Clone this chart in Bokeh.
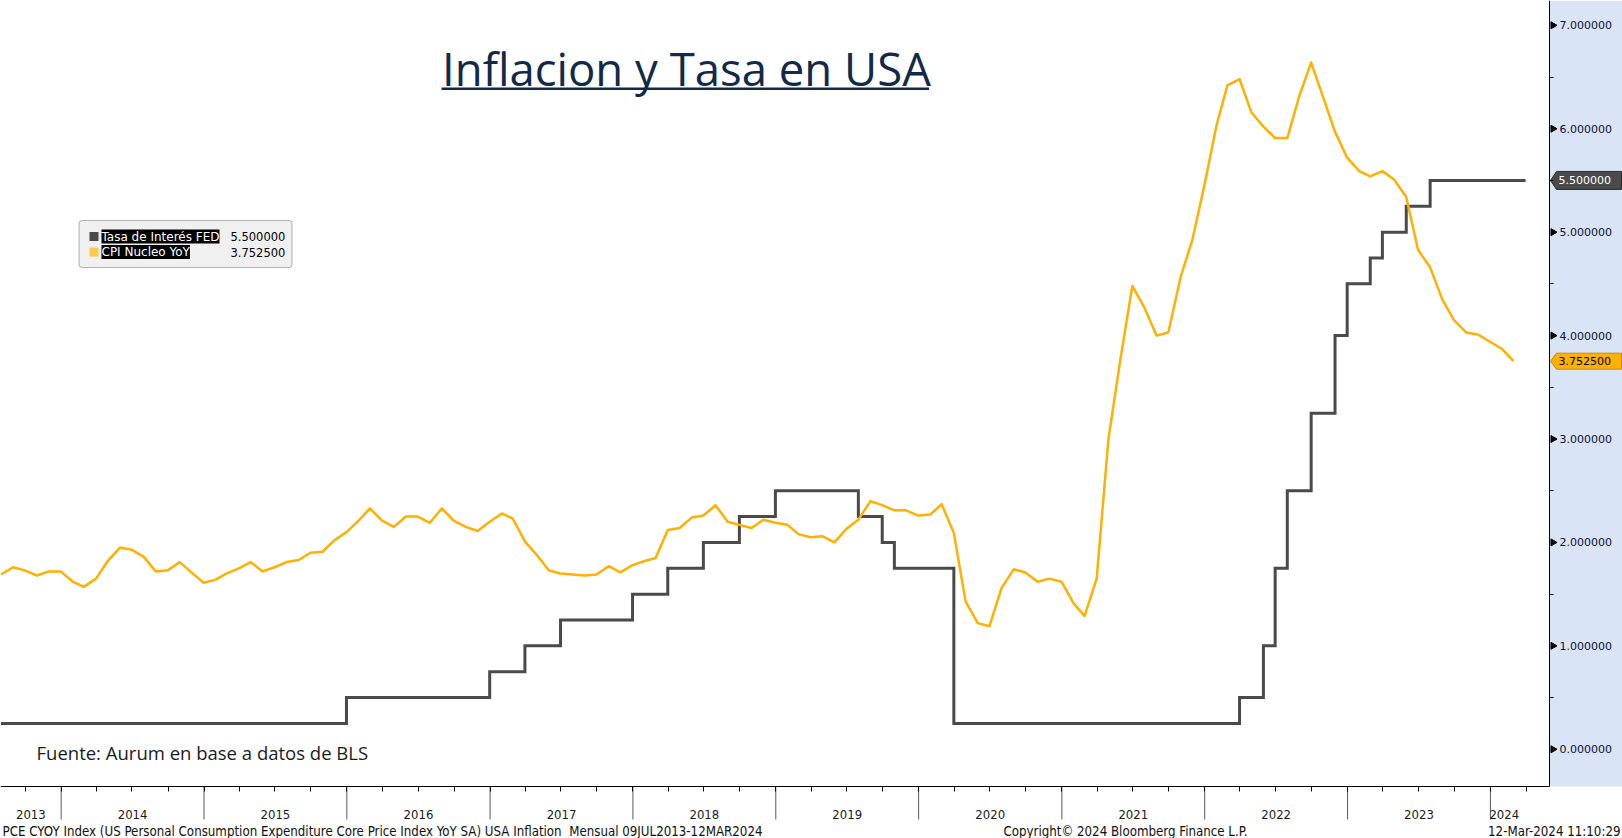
import math
import pandas as pd
from bokeh.plotting import figure
from bokeh.core.properties import value
from bokeh.models import (Range1d, FixedTicker, PrintfTickFormatter, Label, BoxAnnotation,
                          LinearAxis, DatetimeAxis, DatetimeTickFormatter)
from bokeh.embed import file_html
from bokeh.resources import INLINE

# ---------------------------------------------------------------- data
# Core CPI, year-on-year %, month-end observations starting Jul 2013
cpi_first_month_end = "2013-07-31"
cpi_core_yoy = [
    1.69, 1.76, 1.73, 1.68, 1.72, 1.72,
    1.62, 1.57, 1.65, 1.82, 1.95, 1.93, 1.86, 1.72, 1.73, 1.81, 1.71, 1.61,
    1.64, 1.70, 1.75, 1.81, 1.72, 1.76, 1.81, 1.83, 1.90, 1.91, 2.02, 2.10,
    2.21, 2.33, 2.21, 2.15, 2.25, 2.25, 2.19, 2.33, 2.21, 2.15, 2.11, 2.20,
    2.28, 2.23, 2.01, 1.88, 1.73, 1.70, 1.69, 1.68, 1.69, 1.77, 1.71, 1.78,
    1.82, 1.85, 2.12, 2.14, 2.24, 2.26, 2.36, 2.20, 2.17, 2.14, 2.22, 2.19,
    2.17, 2.08, 2.05, 2.06, 2.00, 2.13, 2.22, 2.40, 2.36, 2.31, 2.31, 2.26,
    2.27, 2.37, 2.09, 1.43, 1.22, 1.19, 1.56, 1.74, 1.71, 1.62, 1.65, 1.62,
    1.41, 1.29, 1.65, 3.00, 3.78, 4.48, 4.27, 4.00, 4.03, 4.56, 4.92, 5.45,
    6.03, 6.42, 6.48, 6.16, 6.02, 5.91, 5.91, 6.32, 6.64, 6.30, 5.97, 5.72,
    5.59, 5.54, 5.59, 5.51, 5.34, 4.83, 4.66, 4.35, 4.15, 4.03, 4.01, 3.94,
    3.87, 3.7525,
]

# Fed funds target (upper bound): month-end where each level starts, plus series end
fed_dates = [
    "2013-07-31", "2015-12-31", "2016-12-31", "2017-03-31", "2017-06-30",
    "2017-12-31", "2018-03-31", "2018-06-30", "2018-09-30", "2018-12-31",
    "2019-07-31", "2019-09-30", "2019-10-31", "2020-03-31", "2022-03-31",
    "2022-05-31", "2022-06-30", "2022-07-31", "2022-09-30", "2022-11-30",
    "2022-12-31", "2023-02-28", "2023-03-31", "2023-05-31", "2023-07-31",
    "2024-03-31",
]
fed_rates = [
    0.25, 0.50, 0.75, 1.00, 1.25,
    1.50, 1.75, 2.00, 2.25, 2.50,
    2.25, 2.00, 1.75, 0.25, 0.50,
    1.00, 1.75, 2.50, 3.25, 4.00,
    4.50, 4.75, 5.00, 5.25, 5.50,
    5.50,
]

series_names = ["Tasa de Interés FED", "CPI Nucleo YoY"]
y_ticks = [0, 1, 2, 3, 4, 5, 6, 7]
y_minor_ticks = [0.5, 1.5, 2.5, 3.5, 4.5, 5.5, 6.5]
years = list(range(2013, 2025))
view_start, view_end = "2013-07-30", "2024-05-31"
data_end = "2024-03-12"

title_text = "Inflacion y Tasa en USA"
source_text = "Fuente: Aurum en base a datos de BLS"
footer_left = ("PCE CYOY Index (US Personal Consumption Expenditure Core Price "
               "Index YoY SA) USA Inflation \u00a0Mensual 09JUL2013-12MAR2024")
footer_mid = "Copyright\u00a9 2024 Bloomberg Finance L.P."
footer_right = "12-Mar-2024 11:10:29"

# ---------------------------------------------------------------- layout / styling
W, H = 1622, 838            # canvas
PLOT_W, PLOT_H = 1549, 786  # chart area (value axis on its right, time axis below)
Y0, Y1 = -0.36, 7.24        # value span of the chart area
FED_COLOR = "#4a4a4a"
CPI_COLOR = "#ffb000"
CPI_SWATCH = "#ffc94a"
AXIS_BG = "#d9e4f6"
NAVY = "#12294a"
TICK_TEXT = "#101030"
SANS = "DejaVu Sans"
COND = "DejaVu Sans Condensed"
DISPLAY = "Open Sans"


def ms(ts):
    return pd.Timestamp(ts).timestamp() * 1000.0


PPU = PLOT_H / (Y1 - Y0)                              # pixels per value unit
PPMS = PLOT_W / (ms(view_end) - ms(view_start))      # pixels per millisecond


def xpx(px):
    """Canvas column -> time coordinate."""
    return ms(view_start) + px / PPMS


def ypx(py):
    """Canvas row -> value coordinate."""
    return Y1 - py / PPU


def sy(py):
    """Canvas row -> screen units measured up from the canvas bottom."""
    return H - py


cpi_dates = pd.date_range(cpi_first_month_end, periods=len(cpi_core_yoy),
                          freq=pd.offsets.MonthEnd())
fed_x = pd.to_datetime(fed_dates)
x_end = ms(view_end)

p = figure(width=W, height=H, x_axis_type=None, y_axis_type=None,
           x_range=Range1d(ms(view_start), xpx(W)), y_range=Range1d(ypx(H), Y1),
           output_backend="svg", toolbar_location=None, title=None,
           min_border_left=0, min_border_top=0, min_border_right=0, min_border_bottom=0)
p.outline_line_color = None
p.background_fill_color = "white"
p.border_fill_color = "white"

# shaded strip behind the value axis
p.quad(left=[x_end], right=[xpx(W)], bottom=[Y0], top=[Y1],
       fill_color=AXIS_BG, line_color=None)

# ---- value axis on the right edge of the chart area
yax = LinearAxis(fixed_location=x_end, bounds=(Y0, Y1))
yax.ticker = FixedTicker(ticks=y_ticks, minor_ticks=y_minor_ticks)
yax.formatter = PrintfTickFormatter(format="%.6f")
yax.axis_line_color = "black"
yax.major_tick_out = 7
yax.major_tick_in = 0
yax.major_tick_line_color = None
yax.minor_tick_out = 4
yax.minor_tick_in = 0
yax.minor_tick_line_color = "black"
yax.major_label_standoff = 3
yax.major_label_text_font = SANS
yax.major_label_text_font_size = "11px"
yax.major_label_text_color = TICK_TEXT
p.add_layout(yax, "right")

# arrow-head markers at the major value ticks
p.scatter(x=[x_end + 3.5 / PPMS] * len(y_ticks), y=y_ticks, marker="triangle",
          size=7, angle=-math.pi / 2, fill_color="black", line_color="black")

# ---- time axis: quarterly ticks, year names centred on each year's visible span
quarter_starts = pd.date_range("2013-10-01", view_end,
                               freq=pd.offsets.QuarterBegin(startingMonth=1))
year_mids = []
for y in years:
    a = max(pd.Timestamp(f"{y}-01-01"), pd.Timestamp(view_start))
    b = min(pd.Timestamp(f"{y + 1}-01-01"), pd.Timestamp(data_end))
    year_mids.append((ms(a) + ms(b)) / 2)

xax = DatetimeAxis(fixed_location=Y0, bounds=(ms(view_start), x_end))
xax.ticker = FixedTicker(ticks=year_mids, minor_ticks=[ms(t) for t in quarter_starts])
xax.formatter = DatetimeTickFormatter(
    microseconds="%Y", milliseconds="%Y", seconds="%Y", minsec="%Y", minutes="%Y",
    hourmin="%Y", hours="%Y", days="%Y", months="%Y", years="%Y")
xax.axis_line_color = "black"
xax.major_tick_line_color = None
xax.major_tick_out = 0
xax.major_tick_in = 0
xax.minor_tick_out = 5
xax.minor_tick_in = 0
xax.minor_tick_line_color = "black"
xax.major_label_standoff = 18
xax.major_label_text_font = COND
xax.major_label_text_font_size = "13px"
xax.major_label_text_color = "#1a1a1a"
p.add_layout(xax, "below")

# long separators at each new year
year_starts = [pd.Timestamp(f"{y}-01-01") for y in years[1:]]
p.segment(x0=year_starts, y0=[Y0] * len(year_starts), x1=year_starts,
          y1=[ypx(PLOT_H + 33)] * len(year_starts), line_color="#5a5a5a", line_width=1)

# ---- series
p.step(fed_x, fed_rates, mode="after", line_color=FED_COLOR, line_width=3,
       line_join="miter")
p.line(cpi_dates, cpi_core_yoy, line_color=CPI_COLOR, line_width=2.5,
       line_join="round")

# ---- last-value tags on the value axis
tag_vals = [fed_rates[-1], cpi_core_yoy[-1]]
tag_half = [9, 8]
tag_fill = [FED_COLOR, CPI_COLOR]
tag_edge = ["#2c2c2c", "#c98a00"]
tag_text_color = ["white", "black"]
p.patches(
    xs=[[x_end + 1 / PPMS, x_end + 7 / PPMS, xpx(W - 1), xpx(W - 1), x_end + 7 / PPMS]
        for _ in tag_vals],
    ys=[[v, v + hh / PPU, v + hh / PPU, v - hh / PPU, v - hh / PPU]
        for v, hh in zip(tag_vals, tag_half)],
    fill_color=tag_fill, line_color=tag_edge, line_width=1)
p.text(x=[x_end + 9 / PPMS] * 2, y=tag_vals, text=[f"{v:.6f}" for v in tag_vals],
       text_baseline="middle", text_font=value(SANS), text_font_size=value("11px"),
       text_color=tag_text_color)

# ---- legend panel
p.add_layout(BoxAnnotation(left=78.5, right=291.5, top=sy(220), bottom=sy(267),
                           left_units="screen", right_units="screen",
                           top_units="screen", bottom_units="screen",
                           fill_color="#f0f0f0", fill_alpha=1, line_color="#111111",
                           line_width=1, border_radius=3))
last_values = [fed_rates[-1], cpi_core_yoy[-1]]
for row_y, name, swatch, val in zip([236, 251.5], series_names,
                                    [FED_COLOR, CPI_SWATCH], last_values):
    p.add_layout(BoxAnnotation(left=89, right=98, top=sy(row_y - 4.5), bottom=sy(row_y + 4.5),
                               left_units="screen", right_units="screen",
                               top_units="screen", bottom_units="screen",
                               fill_color=swatch, fill_alpha=1, line_color=None))
    p.add_layout(Label(x=101, y=sy(row_y), x_units="screen", y_units="screen",
                       text=name, text_baseline="middle", text_font=SANS,
                       text_font_size="12px", text_color="white",
                       background_fill_color="black", background_fill_alpha=1))
    p.add_layout(Label(x=230, y=sy(row_y), x_units="screen", y_units="screen",
                       text=f"{val:.6f}", text_baseline="middle", text_font=SANS,
                       text_font_size="11.5px", text_color="black"))

# ---- title, source and footer
p.add_layout(Label(x=686, y=sy(67), x_units="screen", y_units="screen",
                   text=title_text, text_align="center", text_baseline="middle",
                   text_font=DISPLAY, text_font_size="45.5px", text_color=NAVY))
p.add_layout(BoxAnnotation(left=441, right=928.5, top=sy(87), bottom=sy(89.5),
                           left_units="screen", right_units="screen",
                           top_units="screen", bottom_units="screen",
                           fill_color=NAVY, fill_alpha=1, line_color=None))
p.add_layout(Label(x=36, y=sy(752), x_units="screen", y_units="screen",
                   text=source_text, text_baseline="middle", text_font=DISPLAY,
                   text_font_size="18.5px", text_color="#1b1b1b"))

footer_text = [footer_left, footer_mid, footer_right]
footer_x = [xpx(2), xpx(1125), xpx(1620)]
footer_align = ["left", "center", "right"]
p.text(x=footer_x, y=[ypx(830.5)] * 3, text=footer_text, text_align=footer_align,
       text_baseline="middle", text_font=value(COND), text_font_size=value("13.2px"),
       text_color="#111111")

open("out.html", "w").write(file_html(p, INLINE))
